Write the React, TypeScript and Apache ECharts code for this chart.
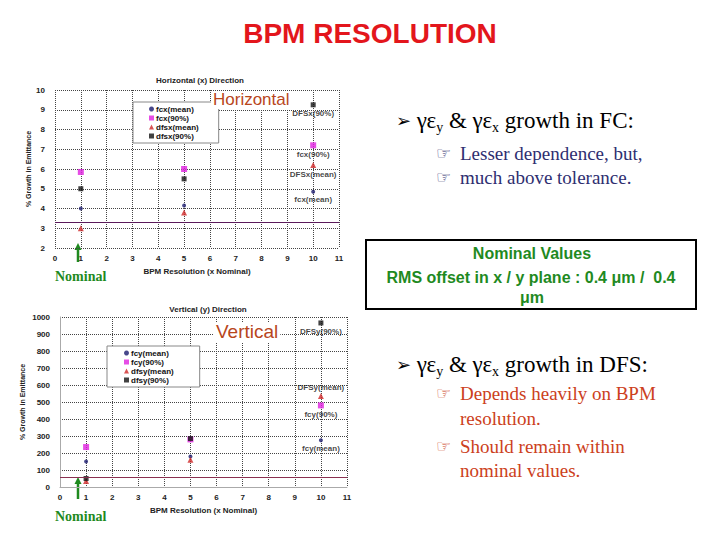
import React, { useEffect, useRef } from "react";
import * as echarts from "echarts";

// ---------- data ----------
const bpmRes = [1, 5, 10];
const xTicksMax = 11;

// Horizontal (x) direction, % growth in emittance
const fcxMean = [4.0, 4.15, 4.85];
const fcx90 = [5.85, 6.0, 7.2];
const dfsxMean = [3.0, 3.8, 6.2];
const dfsx90 = [5.0, 5.5, 9.25];
const xTolerance = 3.3;

// Vertical (y) direction, % growth in emittance
const fcyMean = [150, 180, 275];
const fcy90 = [235, 280, 480];
const dfsyMean = [35, 160, 535];
const dfsy90 = [50, 285, 965];
const yTolerance = 55;

const hLegend = ["fcx(mean)", "fcx(90%)", "dfsx(mean)", "dfsx(90%)"];
const vLegend = ["fcy(mean)", "fcy(90%)", "dfsy(mean)", "dfsy(90%)"];
const hEndLabels = ["fcx(mean)", "fcx(90%)", "DFSx(mean)", "DFSx(90%)"];
const vEndLabels = ["fcy(mean)", "fcy(90%)", "DFSy(mean)", "DFSy(90%)"];

// ---------- styles ----------
const markerStyles = [
  { symbol: "circle", size: 4, color: "#1a1a6e" },
  { symbol: "rect", size: 6, color: "#e020e0" },
  { symbol: "triangle", size: 6, color: "#d02828" },
  { symbol: "rect", size: 5, color: "#111111" },
];

const tickFont = { fontSize: 8, fontWeight: "bold", color: "#222", fontFamily: "Arial" };

function buildSeries(
  arrays: number[][],
  names: string[],
  endLabels: string[],
  labelPos: string[],
  axisIndex: number,
  tolerance: number,
  tolColor: string
) {
  return arrays.map((arr, k) => {
    const st = markerStyles[k];
    const s: any = {
      type: "scatter",
      name: names[k],
      xAxisIndex: axisIndex,
      yAxisIndex: axisIndex,
      symbol: st.symbol,
      symbolSize: st.size,
      itemStyle: { color: st.color },
      data: bpmRes.map((x, i) => {
        const d: any = { value: [x, arr[i]] };
        if (i === bpmRes.length - 1) {
          d.label = {
            show: true,
            position: labelPos[k],
            distance: 2,
            formatter: endLabels[k],
            fontSize: 8,
            fontWeight: "bold",
            fontFamily: "Arial",
            color: "#111",
          };
        }
        return d;
      }),
    };
    if (k === 0) {
      s.markLine = {
        silent: true,
        symbol: "none",
        label: { show: false },
        lineStyle: { color: tolColor, width: 1.2, type: "solid" },
        data: [{ yAxis: tolerance }],
      };
    }
    return s;
  });
}

function axisPair(
  gridIndex: number,
  ymin: number,
  ymax: number,
  yint: number,
  showAxisLine: boolean
) {
  const split = { show: true, lineStyle: { type: "dotted", color: "#444", width: 1 } };
  const line = { show: showAxisLine, lineStyle: { color: "#aaa", width: 1 } };
  return {
    x: {
      type: "value",
      gridIndex,
      min: 0,
      max: xTicksMax,
      interval: 1,
      axisLine: line,
      axisTick: { show: false },
      axisLabel: { ...tickFont, margin: 6 },
      splitLine: split,
      name: "BPM Resolution (x Nominal)",
      nameLocation: "middle",
      nameGap: 19,
      nameTextStyle: { fontSize: 8, fontWeight: "bold", fontFamily: "Arial", color: "#222" },
    },
    y: {
      type: "value",
      gridIndex,
      min: ymin,
      max: ymax,
      interval: yint,
      axisLine: line,
      axisTick: { show: false },
      axisLabel: { ...tickFont, margin: 10, formatter: (v: number) => String(v) },
      splitLine: split,
      name: "% Growth in Emittance",
      nameLocation: "middle",
      nameGap: gridIndex === 0 ? 22 : 34,
      nameTextStyle: { fontSize: 7, fontWeight: "bold", fontFamily: "Arial", color: "#222" },
    },
  };
}

function legendFor(
  names: string[],
  left: number,
  top: number,
  width: number,
  fontSize: number,
  padding: number[],
  itemGap: number
) {
  return {
    orient: "vertical",
    left,
    top,
    width,
    backgroundColor: "#fff",
    borderColor: "#888",
    borderWidth: 1,
    padding,
    itemGap,
    itemWidth: 5,
    itemHeight: 5,
    textStyle: { fontSize, fontWeight: "bold", fontFamily: "Arial", color: "#111", padding: [0, 0, 0, -3] },
    data: names.map((n, k) => ({ name: n, icon: markerStyles[k].symbol })),
  };
}

export default function App() {
  const ref = useRef<HTMLDivElement>(null);

  useEffect(() => {
    if (!ref.current) return;
    const chart = echarts.init(ref.current, undefined, { renderer: "svg" });

    const top = axisPair(0, 2, 10, 1, false);
    const bot = axisPair(1, 0, 1000, 100, true);

    const serif = "'Liberation Serif', 'Times New Roman', serif";
    const richMain = {
      b: { fontSize: 18, fontFamily: "DejaVu Sans", fill: "#000", lineHeight: 28 },
      n: { fontSize: 23, fontFamily: serif, fill: "#000", lineHeight: 28 },
      s: { fontSize: 14, fontFamily: serif, fill: "#000", lineHeight: 15, verticalAlign: "bottom" },
    };

    const hand = (x: number, y: number, color: string) => ({
      type: "text",
      style: { x, y, text: "☞", font: "17px 'DejaVu Sans'", fill: color, textVerticalAlign: "middle" },
    });
    const line = (x: number, y: number, t: string, color: string) => ({
      type: "text",
      style: { x, y, text: t, font: `19px ${serif}`, fill: color, textVerticalAlign: "middle" },
    });
    const blue = "#2e2e70";
    const orange = "#cc4020";
    const green = "#1f8a1f";

    const arrow = (x: number, y1: number, y2: number) => [
      { type: "line", shape: { x1: x, y1, x2: x, y2: y2 + 6 }, style: { stroke: green, lineWidth: 2.5 } },
      {
        type: "polygon",
        shape: { points: [[x - 3.5, y2 + 7], [x + 3.5, y2 + 7], [x, y2]] },
        style: { fill: green },
      },
    ];

    chart.setOption({
      animation: false,
      backgroundColor: "#fff",
      title: [
        {
          text: "BPM RESOLUTION",
          left: 365,
          top: 14,
          textAlign: "center",
          textStyle: { fontSize: 28, fontWeight: "bold", fontFamily: "Arial", color: "#e3161c" },
        },
        {
          text: "Horizontal (x) Direction",
          left: 200,
          top: 76,
          padding: [0, 0, 0, 0],
          textAlign: "center",
          textStyle: { fontSize: 8, fontWeight: "bold", fontFamily: "Arial", color: "#222" },
        },
        {
          text: "Vertical (y) Direction",
          left: 208,
          top: 305,
          padding: [0, 0, 0, 0],
          textAlign: "center",
          textStyle: { fontSize: 8, fontWeight: "bold", fontFamily: "Arial", color: "#222" },
        },
      ],
      grid: [
        { left: 55, top: 90, width: 284, height: 158 },
        { left: 60, top: 317, width: 287, height: 170 },
      ],
      xAxis: [top.x, bot.x],
      yAxis: [top.y, bot.y],
      legend: [
        legendFor(hLegend, 133, 102, 84, 8, [3, 20, 3, 16], 1),
        legendFor(vLegend, 107, 346, 90, 8, [3, 26, 3, 17], 1),
      ],
      series: [
        ...buildSeries(
          [fcxMean, fcx90, dfsxMean, dfsx90],
          hLegend,
          hEndLabels,
          ["bottom", "bottom", "bottom", "bottom"],
          0,
          xTolerance,
          "#5a1a5a"
        ),
        ...buildSeries(
          [fcyMean, fcy90, dfsyMean, dfsy90],
          vLegend,
          vEndLabels,
          ["bottom", "bottom", "top", "bottom"],
          1,
          yTolerance,
          "#8a3050"
        ),
      ],
      graphic: [
        {
          type: "text",
          z: 10,
          style: {
            x: 211,
            y: 91,
            text: "Horizontal",
            font: "17px Arial",
            fill: "#b8461c",
            backgroundColor: "#fff",
            padding: [0, 2, 1, 2],
          },
        },
        {
          type: "text",
          z: 10,
          style: {
            x: 214,
            y: 322,
            text: "Vertical",
            font: "19px Arial",
            fill: "#b8461c",
            backgroundColor: "#fff",
            padding: [0, 2, 1, 2],
          },
        },
        ...arrow(78, 262, 243),
        ...arrow(78, 499, 477),
        {
          type: "text",
          style: { x: 55, y: 276, text: "Nominal", font: `bold 14px ${serif}`, fill: green, textVerticalAlign: "middle" },
        },
        {
          type: "text",
          style: { x: 55, y: 516, text: "Nominal", font: `bold 14px ${serif}`, fill: green, textVerticalAlign: "middle" },
        },
        {
          type: "text",
          style: {
            x: 396,
            y: 106,
            text: "{b|➢ }{n|γε}{s|y}{n| & γε}{s|x}{n| growth in FC:}",
            rich: richMain,
          },
        },
        hand(436, 153, blue),
        line(460, 153, "Lesser dependence, but,", blue),
        hand(436, 177, blue),
        line(460, 177, "much above tolerance.", blue),
        {
          type: "rect",
          shape: { x: 366, y: 240, width: 330, height: 69 },
          style: { fill: "#fff", stroke: "#000", lineWidth: 2 },
        },
        {
          type: "text",
          style: {
            x: 532,
            y: 253,
            text: "Nominal Values",
            font: "bold 16px Arial",
            fill: green,
            textAlign: "center",
            textVerticalAlign: "middle",
          },
        },
        {
          type: "text",
          style: {
            x: 531,
            y: 277,
            text: "RMS offset in x / y plane : 0.4 μm /  0.4",
            font: "bold 16px Arial",
            fill: green,
            textAlign: "center",
            textVerticalAlign: "middle",
          },
        },
        {
          type: "text",
          style: {
            x: 532,
            y: 297,
            text: "μm",
            font: "bold 16px Arial",
            fill: green,
            textAlign: "center",
            textVerticalAlign: "middle",
          },
        },
        {
          type: "text",
          style: {
            x: 396,
            y: 350,
            text: "{b|➢ }{n|γε}{s|y}{n| & γε}{s|x}{n| growth in DFS:}",
            rich: richMain,
          },
        },
        hand(436, 393, orange),
        line(460, 393, "Depends heavily on BPM", orange),
        line(460, 418, "resolution.", orange),
        hand(436, 446, orange),
        line(460, 446, "Should remain within", orange),
        line(460, 470, "nominal values.", orange),
      ],
    });

    return () => chart.dispose();
  }, []);

  return (
    <div
      ref={ref}
      style={{ position: "fixed", left: 0, top: 0, width: 720, height: 540, background: "#fff" }}
    />
  );
}
